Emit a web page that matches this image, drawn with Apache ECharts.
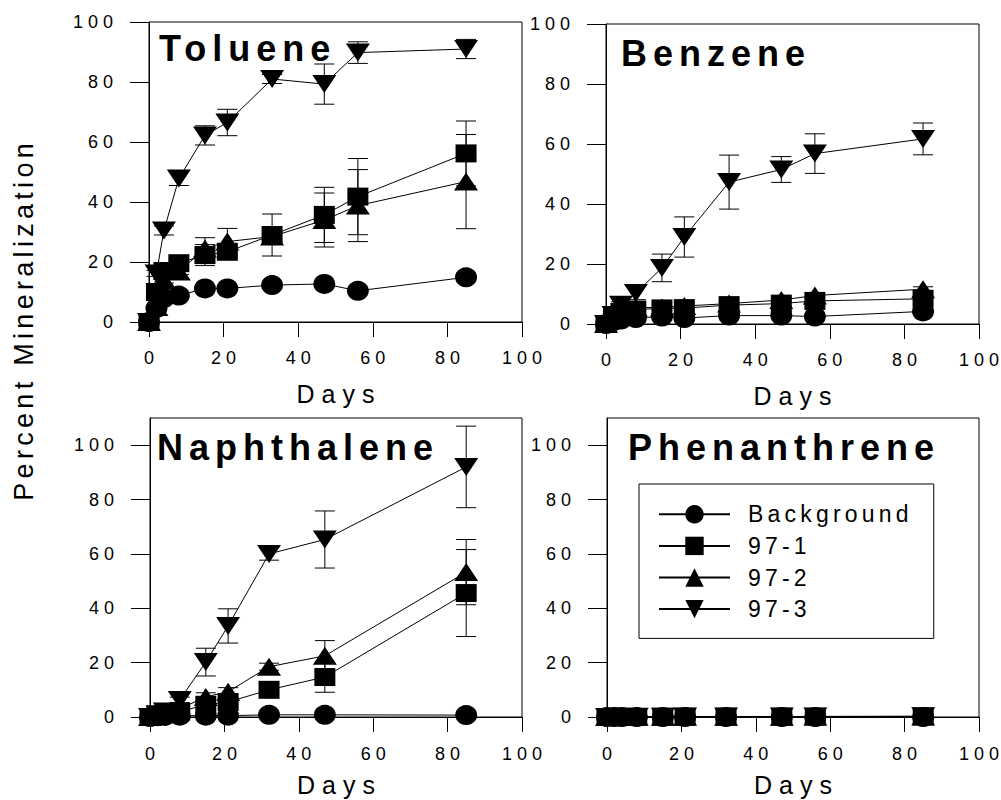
<!DOCTYPE html>
<html>
<head>
<meta charset="utf-8">
<script src="https://cdn.jsdelivr.net/npm/echarts@6/dist/echarts.min.js"></script>
<style>
html,body{margin:0;padding:0;background:#fff;}
#c{width:1001px;height:800px;}
#c text[style*="18px"]{letter-spacing:5px;}
#c text[style*="36px"]{letter-spacing:6px;}
#c text[style*="25px"]{letter-spacing:7px;}
#c text[style*="23px"]{letter-spacing:4.2px;}
#c text[style*="27px"]{letter-spacing:4.3px;}
</style>
</head>
<body>
<div id="c"></div>
<script>
// ---- data ----
const seriesNames = ['Background', '97-1', '97-2', '97-3'];
const xTicks = [0, 20, 40, 60, 80, 100];
const yTicks = [0, 20, 40, 60, 80, 100];
const panelTitles = ['Toluene', 'Benzene', 'Naphthalene', 'Phenanthrene'];
const yTitle = 'Percent Mineralization';
const xTitle = 'Days';

const tolueneDays = [0, 2, 4, 8, 15, 21, 33, 47, 56, 85];
const tolueneBackground = [0, 4.6, 8, 8.8, 11.2, 11.2, 12.3, 12.7, 10.4, 14.9];
const toluene971 = [0, 10, 17, 19.6, 22.3, 23.4, 29, 35.7, 41.8, 56.2];
const toluene972 = [0, 5, 14, 16.8, 24.5, 26.8, 28.5, 34, 38.8, 46.8];
const toluene973 = [0, 16.2, 30.5, 47.8, 62.2, 66.5, 81, 79.3, 89.8, 91];
const tolueneBackgroundSD = [0, 0, 0, 0, 0, 0, 0, 0, 0, 0];
const toluene971SD = [0, 0.5, 1, 1, 3.5, 1, 7, 9.2, 12.7, 10.8];
const toluene972SD = [0, 0.5, 1, 1, 3.6, 4.4, 1, 9, 12, 15.7];
const toluene973SD = [0, 1, 1.5, 2.3, 3.2, 4.4, 1.5, 6.7, 3.6, 3.2];

const benzeneDays = [0, 2, 4, 8, 15, 21, 33, 47, 56, 85];
const benzeneBackground = [0, 1, 1.5, 2, 2.5, 2, 2.8, 2.8, 2.5, 4.2];
const benzene971 = [0, 2.5, 4, 4.8, 5.2, 5.3, 6.3, 6.8, 7.7, 8.4];
const benzene972 = [0, 2.5, 4.5, 5.5, 5.5, 6, 6.8, 8, 9.5, 11.6];
const benzene973 = [0, 3, 6.4, 10.3, 18.7, 29, 47.3, 51.5, 56.8, 61.7];
const benzeneBackgroundSD = [0, 0, 0, 0, 0, 0, 0, 0, 0, 0];
const benzene971SD = [0, 0, 0.5, 0.5, 0.8, 0.8, 0.8, 0.8, 0.8, 0.8];
const benzene972SD = [0, 0, 0.5, 0.5, 0.8, 0.8, 0.8, 0.8, 0.8, 0.8];
const benzene973SD = [0, 0.5, 1, 2.2, 4.6, 6.7, 9, 4.3, 6.6, 5.3];

const naphthaleneDays = [0, 2, 4, 8, 15, 21, 32, 47, 85];
const naphthaleneBackground = [0, 0.3, 0.4, 0.5, 0.5, 0.5, 0.8, 0.8, 0.7];
const naphthalene971 = [0, 0.8, 1.2, 2, 4.5, 5.5, 10, 14.7, 45.6];
const naphthalene972 = [0, 1, 1.8, 3, 7.4, 9.3, 18.5, 22.5, 53.3];
const naphthalene973 = [0, 1, 2, 6.3, 20.2, 33.5, 60, 65.3, 92];
const naphthaleneBackgroundSD = [0, 0, 0, 0, 0, 0, 0, 0, 0];
const naphthalene971SD = [0, 0, 0, 0.5, 1, 1, 1, 5.6, 16];
const naphthalene972SD = [0, 0, 0, 0.5, 1.5, 1.5, 1.3, 5.6, 12];
const naphthalene973SD = [0, 0.3, 0.5, 1, 5.1, 6.3, 2.3, 10.5, 15];

const phenanthreneDays = [0, 2, 4, 8, 15, 21, 32, 47, 56, 85];
const phenanthreneBackground = [0, 0, 0, 0, 0, 0, 0, 0, 0, 0];
const phenanthrene971 = [0, 0, 0, 0, 0.1, 0.1, 0.1, 0.1, 0.1, 0.2];
const phenanthrene972 = [0, 0, 0, 0.1, 0.1, 0.1, 0.1, 0.1, 0.2, 0.2];
const phenanthrene973 = [0, 0, 0.1, 0.1, 0.1, 0.2, 0.2, 0.2, 0.2, 0.3];
const phenanthreneSD = [0, 0, 0, 0, 0, 0, 0, 0, 0, 0];

// ---- assembly ----
const panels = [
  { days: tolueneDays, vals: [tolueneBackground, toluene971, toluene972, toluene973],
    sds: [tolueneBackgroundSD, toluene971SD, toluene972SD, toluene973SD] },
  { days: benzeneDays, vals: [benzeneBackground, benzene971, benzene972, benzene973],
    sds: [benzeneBackgroundSD, benzene971SD, benzene972SD, benzene973SD] },
  { days: naphthaleneDays, vals: [naphthaleneBackground, naphthalene971, naphthalene972, naphthalene973],
    sds: [naphthaleneBackgroundSD, naphthalene971SD, naphthalene972SD, naphthalene973SD] },
  { days: phenanthreneDays, vals: [phenanthreneBackground, phenanthrene971, phenanthrene972, phenanthrene973],
    sds: [phenanthreneSD, phenanthreneSD, phenanthreneSD, phenanthreneSD] }
];

const FONT = "'Liberation Sans', Arial, Helvetica, sans-serif";
const gridBoxes = [
  { left: 149, top: 22, width: 373, height: 300 },
  { left: 606, top: 24, width: 373, height: 300 },
  { left: 150, top: 418, width: 372, height: 299 },
  { left: 607, top: 418, width: 372, height: 299 }
];
const yMaxes = [100, 100, 110, 110];
const nameGaps = [59, 59, 55, 55];
const labelMargins = [27, 27, 28, 28];
const titlePos = [[159, 30], [621, 35], [157, 429], [628, 429]];
const symbols = ['circle', 'rect', 'triangle', 'triangle'];
const symbolRotates = [0, 0, 0, 180];
const symbolSizes = [[22, 20], [21, 18], [24, 18], [24, 18]];

function renderErr(params, api) {
  const x = api.value(0), y = api.value(1), sd = api.value(2);
  if (!sd) return null;
  const top = api.coord([x, y + sd]);
  const bot = api.coord([x, y - sd]);
  const hw = 10;
  const st = { stroke: '#000', lineWidth: 1 };
  return {
    type: 'group',
    children: [
      { type: 'line', shape: { x1: top[0], y1: top[1], x2: bot[0], y2: bot[1] }, style: st },
      { type: 'line', shape: { x1: top[0] - hw, y1: top[1], x2: top[0] + hw, y2: top[1] }, style: st },
      { type: 'line', shape: { x1: bot[0] - hw, y1: bot[1], x2: bot[0] + hw, y2: bot[1] }, style: st }
    ]
  };
}

const grid = [], xAxis = [], yAxis = [], series = [], title = [];
panels.forEach((p, i) => {
  grid.push(Object.assign({
    show: true, borderColor: '#000', borderWidth: 1, backgroundColor: 'transparent',
    containLabel: false, outerBoundsMode: 'none'
  }, gridBoxes[i]));
  xAxis.push({
    gridIndex: i, type: 'value', min: 0, max: 100, interval: 20,
    axisLine: { show: true, onZero: false, lineStyle: { color: '#000', width: 1 } },
    axisTick: { show: true, inside: false, length: 15, lineStyle: { color: '#000', width: 1 } },
    axisLabel: { show: true, margin: labelMargins[i], fontSize: 18, color: '#000', fontFamily: FONT,
      padding: [0, 0, 0, 5], customValues: xTicks },
    splitLine: { show: false },
    name: xTitle, nameLocation: 'middle', nameGap: nameGaps[i],
    nameTextStyle: { fontSize: 25, color: '#000', fontFamily: FONT, padding: [0, 0, 0, 7] }
  });
  yAxis.push({
    gridIndex: i, type: 'value', min: 0, max: yMaxes[i], interval: 20,
    axisLine: { show: true, onZero: false, lineStyle: { color: '#000', width: 1 } },
    axisTick: { show: true, inside: false, length: 19, lineStyle: { color: '#000', width: 1 }, customValues: yTicks },
    axisLabel: { show: true, margin: 31, fontSize: 18, color: '#000', fontFamily: FONT, customValues: yTicks },
    splitLine: { show: false }
  });
  title.push({
    text: panelTitles[i], left: titlePos[i][0], top: titlePos[i][1], padding: 0,
    textStyle: { fontSize: 36, fontWeight: 'bold', color: '#000', fontFamily: FONT }
  });
  const errData = [];
  p.vals.forEach((v, k) => {
    p.days.forEach((d, j) => errData.push([d, v[j], p.sds[k][j]]));
  });
  series.push({
    type: 'custom', name: 'err' + i, xAxisIndex: i, yAxisIndex: i, clip: false,
    data: errData, renderItem: renderErr, encode: { x: 0, y: 1 }, z: 2, silent: true
  });
  p.vals.forEach((v, k) => {
    series.push({
      type: 'line', name: seriesNames[k], xAxisIndex: i, yAxisIndex: i,
      data: p.days.map((d, j) => [d, v[j]]),
      symbol: symbols[k], symbolSize: symbolSizes[k], symbolRotate: symbolRotates[k],
      showAllSymbol: true, clip: false, z: 3,
      lineStyle: { color: '#000', width: 1 },
      itemStyle: { color: '#000', borderWidth: 0 },
      emphasis: { disabled: true }, silent: true
    });
  });
});

const chart = echarts.init(document.getElementById('c'), null, { renderer: 'svg' });
chart.setOption({
  animation: false,
  backgroundColor: '#fff',
  textStyle: { fontFamily: FONT, color: '#000' },
  title: title,
  grid: grid, xAxis: xAxis, yAxis: yAxis, series: series,
  legend: {
    show: true, data: seriesNames, orient: 'vertical', left: 639, top: 484,
    itemWidth: 71, itemHeight: 23, itemGap: 8.6, padding: [18.8, 63, 17.8, 19],
    borderColor: '#000', borderWidth: 1, borderRadius: 0, backgroundColor: '#fff',
    selectedMode: false,
    textStyle: { fontSize: 23, color: '#000', lineHeight: 23, fontFamily: FONT, padding: [0, 0, 0, 13] }
  },
  graphic: [{
    type: 'text', x: 24, y: 322, rotation: Math.PI / 2, silent: true,
    style: { text: yTitle, fontSize: 27, fontFamily: FONT, fill: '#000',
      align: 'center', verticalAlign: 'middle', padding: [0, 0, 0, 4.3] }
  }]
});
</script>
</body>
</html>
